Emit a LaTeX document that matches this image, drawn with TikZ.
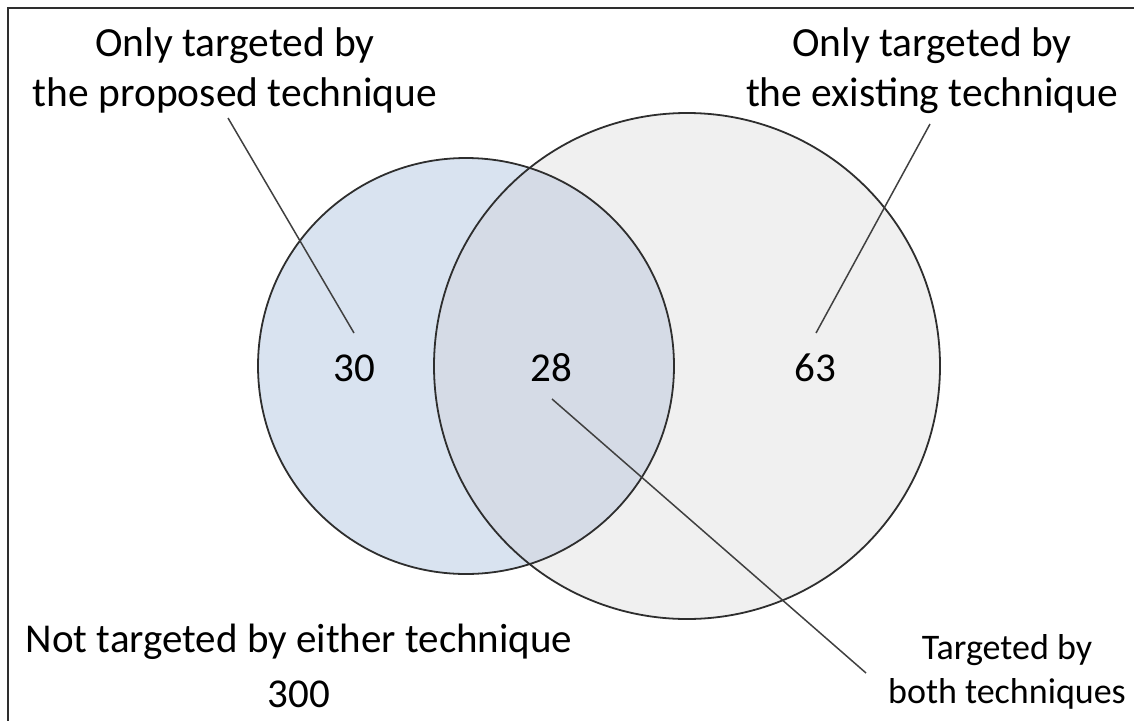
\documentclass[tikz,border=0pt]{standalone}
\usepackage{fontspec}
\setmainfont{Carlito}
\begin{document}
\begin{tikzpicture}[x=1pt,y=-1pt,
  outline/.style={draw=black!82,line width=1.8pt},
  leader/.style={draw=black!75,line width=1.5pt},
  frameline/.style={draw=black!82,line width=2.8pt},
  label/.style={inner sep=0pt,align=center,font=\fontsize{41.5}{50}\selectfont},
  smalllabel/.style={inner sep=0pt,align=center,font=\fontsize{36}{44}\selectfont},
  count/.style={inner sep=0pt,font=\fontsize{41}{48}\selectfont}]
\useasboundingbox (0,0) rectangle (1134,720);

% outer frame (open towards the right and bottom)
\draw[frameline] (8,740) -- (8,8) -- (1150,8);

% the two sets
\coordinate (cp) at (466,366);
\coordinate (ce) at (687,366);
\fill[fill={rgb,255:red,217;green,227;blue,240}] (cp) circle (208);
\fill[fill={rgb,255:red,240;green,240;blue,240}] (ce) circle (253);
\begin{scope}
  \clip (cp) circle (208);
  \fill[fill={rgb,255:red,213;green,219;blue,230}] (ce) circle (253);
\end{scope}
\draw[outline] (cp) circle (208);
\draw[outline] (ce) circle (253);

% counts
\node[count] (n30) at (354,368) {30};
\node[count] (n28) at (551,368) {28};
\node[count] (n63) at (815,368) {63};

% labels
\node[label,anchor=north] (lprop) at (235,27) {Only targeted by\\the proposed technique};
\node[label,anchor=north] (lexist) at (932,27) {Only targeted by\\the existing technique};
\node[label,anchor=north,font=\fontsize{41}{55}\selectfont] (lnone) at (299,624) {Not targeted by either technique\\300};
\node[smalllabel,anchor=north] (lboth) at (1007,634) {Targeted by\\both techniques};

% leader lines
\coordinate (pA) at (228,118);
\coordinate (pB) at (354,333);
\coordinate (eA) at (930,124);
\coordinate (eB) at (816,333);
\coordinate (bA) at (552,399);
\coordinate (bB) at (866,673);
\draw[leader] (pA) -- (pB);
\draw[leader] (eA) -- (eB);
\draw[leader] (bA) -- (bB);
\end{tikzpicture}
\end{document}
